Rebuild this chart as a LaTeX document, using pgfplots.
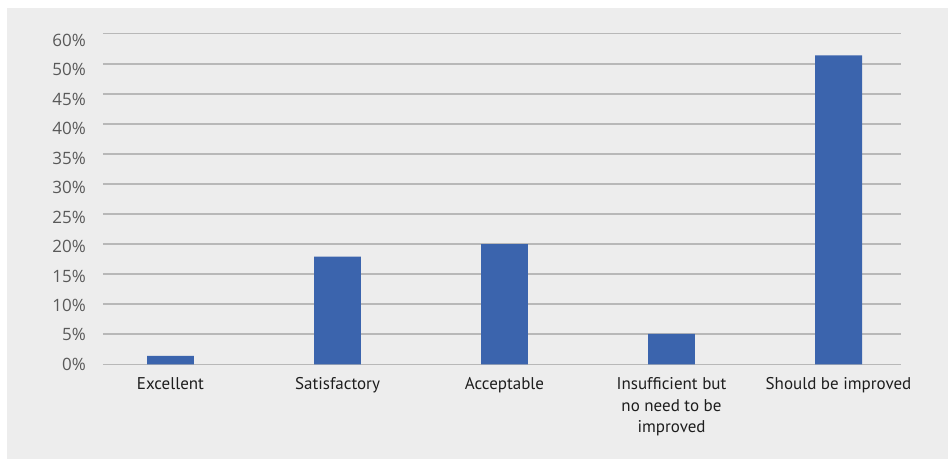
\documentclass[border=0pt]{standalone}
\usepackage{pgfplots}
\pgfplotsset{compat=1.18}
\usepackage{fontspec}
\setmainfont{PT Sans}
\newfontfamily\ylabfont{Open Sans}
\definecolor{bgc}{HTML}{EDEDED}
\definecolor{barc}{HTML}{3B64AD}
\definecolor{gridc}{HTML}{B8B8B8}
\definecolor{ylabc}{HTML}{595959}
\definecolor{xlabc}{HTML}{1E1E1E}
\begin{document}
\begin{tikzpicture}
\fill[white] (0,0) rectangle (948pt,459pt);
\fill[bgc] (7pt,0) rectangle (948pt,451pt);
\begin{axis}[
  at={(103pt,94.7pt)}, anchor=south west,
  scale only axis, width=798pt, height=330.6pt,
  xmin=-0.404, xmax=4.374,
  ymin=0, ymax=55,
  axis line style={draw=none},
  clip=false,
  xtick=data,
  xticklabels={Excellent,Satisfactory,Acceptable,{Insufficient but\\no need to be\\improved},Should be improved},
  xticklabel style={font=\fontsize{17}{21.5}\selectfont, text=xlabc, align=center, anchor=north, inner sep=0pt, yshift=-13pt},
  ytick={0,4.9,9.8,14.7,19.6,24.5,29.4,34.3,39.2,44.1,49,53.9},
  yticklabels={0\%,5\%,10\%,15\%,20\%,25\%,30\%,35\%,40\%,45\%,50\%,60\%},
  yticklabel style={font=\ylabfont\fontsize{17}{18}\selectfont, text=ylabc, anchor=east, inner sep=0pt, xshift=-17pt},
  major tick length=0pt,
  tick style={draw=none},
  extra y ticks={0,5,10,15,20,25,30,35,40,45,50,55},
  extra y tick labels={},
  extra y tick style={grid=major, major grid style={draw=gridc, line width=1.5pt}},
  axis on top=false,
  ybar, bar width=0.281,
]
\addplot[draw=none, fill=barc] coordinates {(0,1.4) (1,17.9) (2,20) (3,5.05) (4,51.4)};
\end{axis}
\pgfresetboundingbox
\useasboundingbox (0,0) rectangle (948pt,459pt);
\end{tikzpicture}
\end{document}
